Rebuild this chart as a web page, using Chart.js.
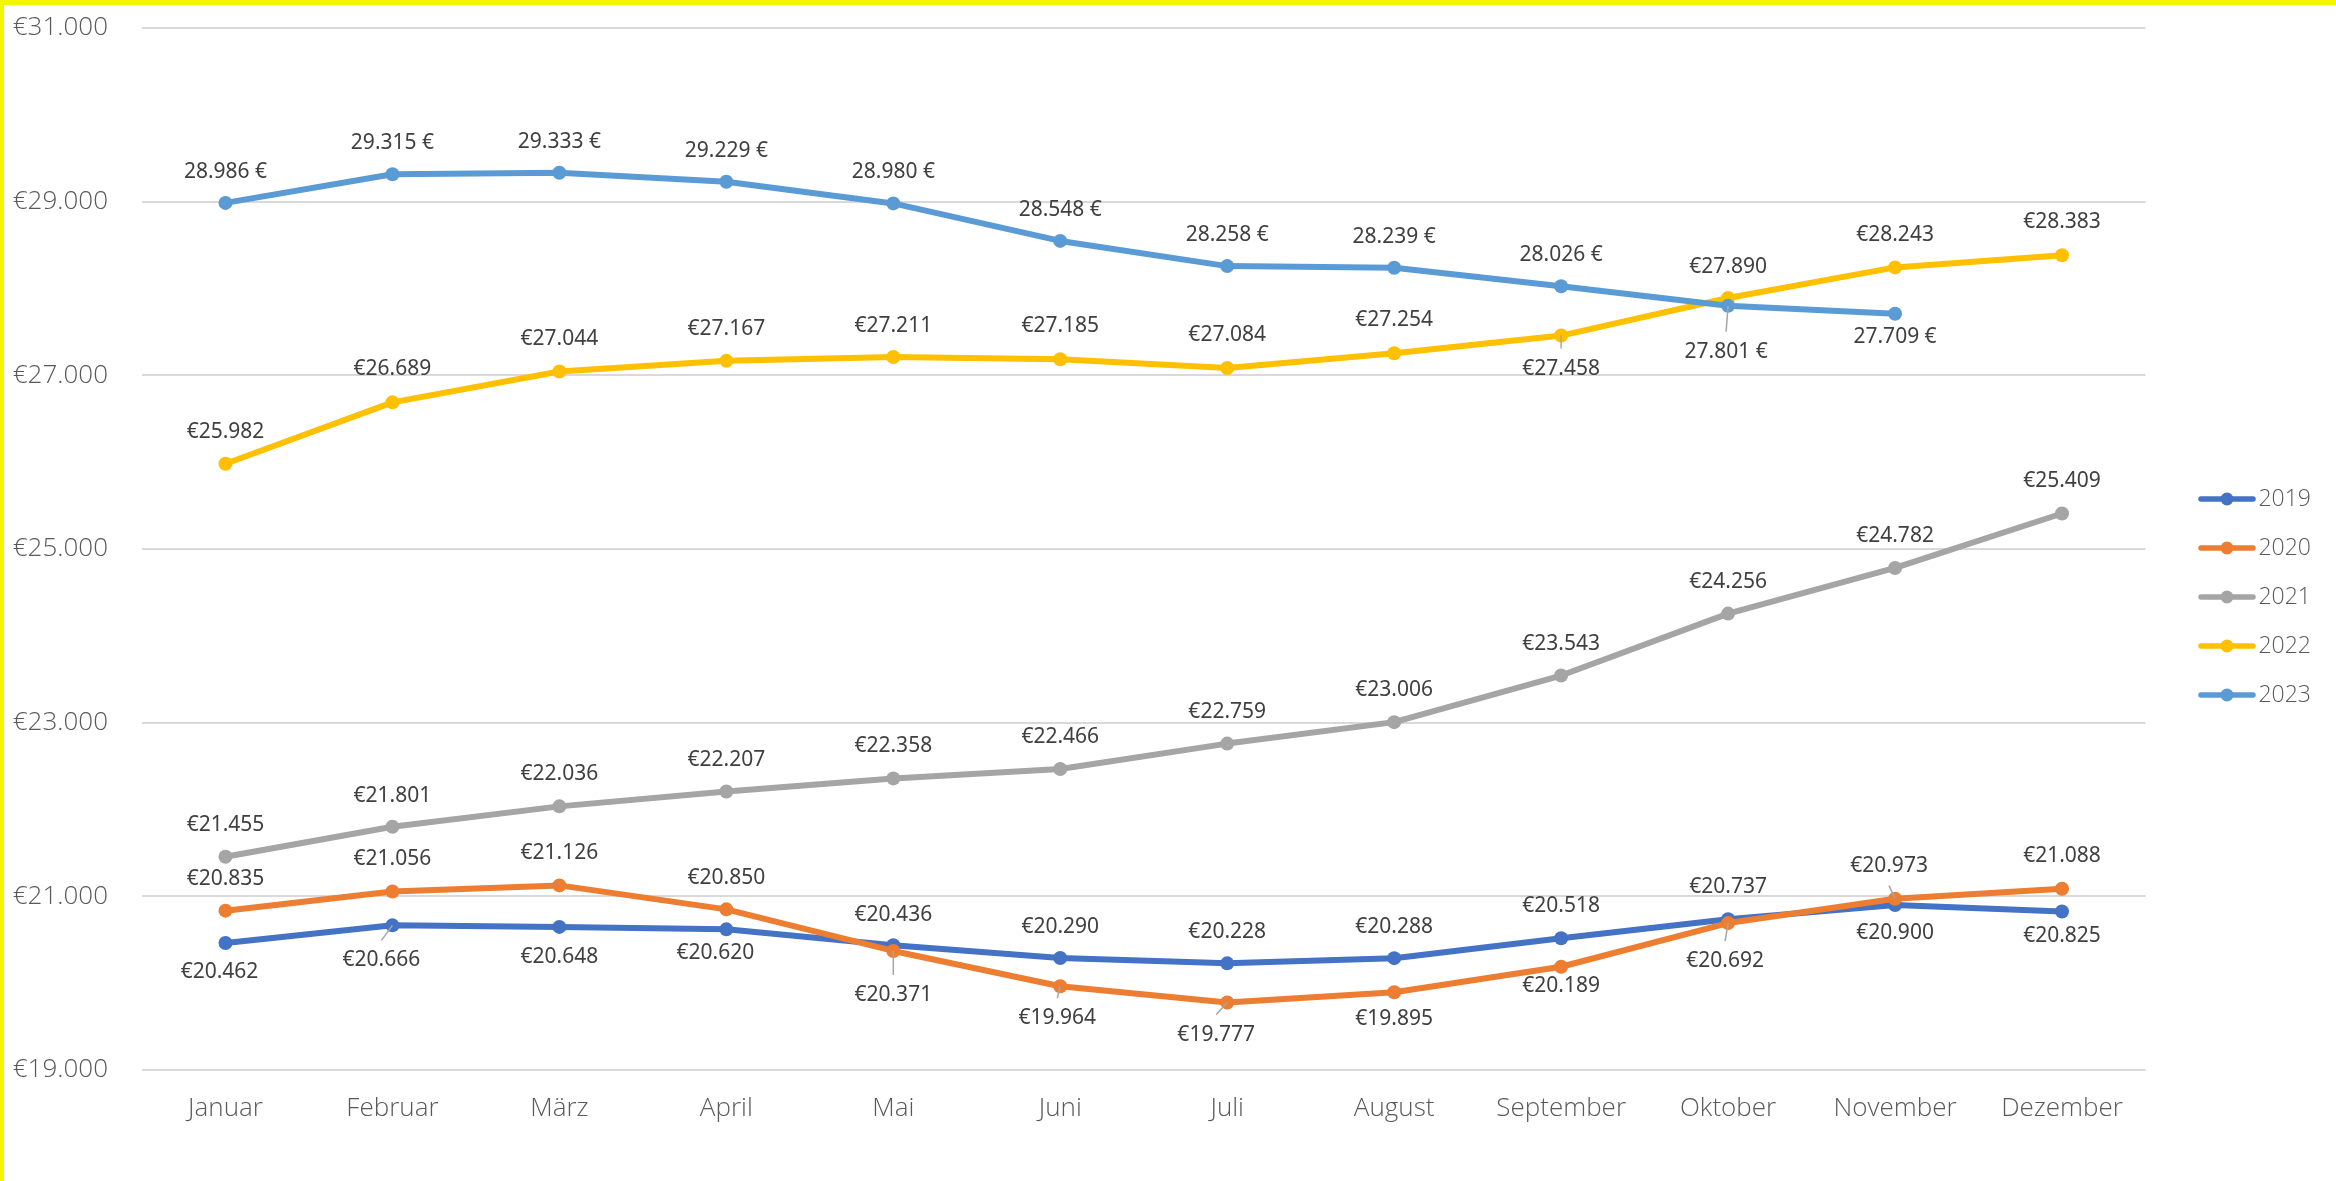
<!DOCTYPE html>
<html><head><meta charset="utf-8">
<script src="https://cdn.jsdelivr.net/npm/chart.js@4.4.1/dist/chart.umd.min.js"></script>
<style>
html,body{margin:0;padding:0;background:#fff;overflow:hidden;}
#wrap{position:relative;width:2336px;height:1181px;background:#fff;}
canvas{position:absolute;left:0;top:0;}
#bt{position:absolute;left:0;top:0;width:2336px;height:5px;background:#F4F600;}
#bl{position:absolute;left:0;top:0;width:4px;height:1181px;background:#F4F600;}
</style></head><body>
<div id="wrap"><canvas id="c" width="2336" height="1181"></canvas><div id="bt"></div><div id="bl"></div></div>
<script>
// ---- data ----
const months = ['Januar','Februar','März','April','Mai','Juni','Juli','August','September','Oktober','November','Dezember'];
const years = ['2019','2020','2021','2022','2023'];
const v2019 = [20462,20666,20648,20620,20436,20290,20228,20288,20518,20737,20900,20825];
const v2020 = [20835,21056,21126,20850,20371,19964,19777,19895,20189,20692,20973,21088];
const v2021 = [21455,21801,22036,22207,22358,22466,22759,23006,23543,24256,24782,25409];
const v2022 = [25982,26689,27044,27167,27211,27185,27084,27254,27458,27890,28243,28383];
const v2023 = [28986,29315,29333,29229,28980,28548,28258,28239,28026,27801,27709,null];
const yMin = 19000, yMax = 31000, yStep = 2000;

// ---- styles ----
const colors = ['#4472C4','#ED7D31','#A5A5A5','#FFC000','#5B9BD5'];
const seriesValues = [v2019, v2020, v2021, v2022, v2023];
// label placement (pixels relative to the point)
const lblDy = [
  [29,35,30,24,-30,-31,-31,-31,-32,-32,28,24],
  [-32,-32,-32,-31,44,32,32,27,19,38,-33,-33],
  [-32,-31,-32,-32,-32,-32,-32,-32,-32,-32,-32,-32],
  [-32,-33,-32,-32,-31,-33,-33,-33,33,-31,-32,-33],
  [-31,-31,-31,-31,-31,-31,-31,-31,-31,46,23,0]
];
const lblDx = [
  [-6,-11,0,-11,0,0,0,0,0,0,0,0],
  [0,0,0,0,0,-3,-11,0,0,-3,-6,0],
  [0,0,0,0,0,0,0,0,0,0,0,0],
  [0,0,0,0,0,0,0,0,0,0,0,0],
  [0,0,0,0,0,0,0,0,0,-2,0,0]
];
const leaders = [[0,1],[1,4],[1,5],[1,6],[1,9],[1,10],[3,8],[4,9]];
const suffixEuro = [false,false,false,false,true];

const fmt = n => String(n).replace(/\B(?=(\d{3})+(?!\d))/g, '.');
const AXIS_FONT = {family:'"Open Sans", Lato, sans-serif', size:26, weight:'300'};

function legendIcon(color){
  const c = document.createElement('canvas');
  c.width = 58; c.height = 16;
  const g = c.getContext('2d');
  g.strokeStyle = color; g.lineWidth = 5.5; g.lineCap = 'round';
  g.beginPath(); g.moveTo(3,8); g.lineTo(55,8); g.stroke();
  g.fillStyle = color; g.beginPath(); g.arc(29,8,6.5,0,Math.PI*2); g.fill();
  return c;
}

const datasets = years.map((y,i)=>({
  label: y,
  data: seriesValues[i],
  borderColor: colors[i],
  backgroundColor: colors[i],
  pointBackgroundColor: colors[i],
  pointBorderWidth: 0,
  pointRadius: 7,
  pointHoverRadius: 7,
  borderWidth: 6,
  borderCapStyle: 'round',
  borderJoinStyle: 'round',
  tension: 0,
  spanGaps: false,
  order: years.length - i
}));

const labelPlugin = {
  id: 'valueLabels',
  afterDatasetsDraw(chart){
    const ctx = chart.ctx;
    ctx.save();
    ctx.strokeStyle = '#A6A6A6'; ctx.lineWidth = 1.5;
    leaders.forEach(([s,k])=>{
      const el = chart.getDatasetMeta(s).data[k];
      if(!el) return;
      const dy = lblDy[s][k], dx = lblDx[s][k];
      const sign = dy > 0 ? 1 : -1;
      const ex = el.x + dx, ey = el.y + dy - sign*20;
      ctx.beginPath(); ctx.moveTo(el.x, el.y); ctx.lineTo(ex, ey); ctx.stroke();
    });
    ctx.font = '21px "Noto Sans", sans-serif';
    ctx.fillStyle = '#404040';
    ctx.textAlign = 'center'; ctx.textBaseline = 'middle';
    chart.data.datasets.forEach((ds,s)=>{
      const meta = chart.getDatasetMeta(s);
      ds.data.forEach((v,k)=>{
        if(v === null || v === undefined) return;
        const el = meta.data[k];
        const txt = suffixEuro[s] ? fmt(v) + ' €' : '€' + fmt(v);
        ctx.fillText(txt, el.x + lblDx[s][k], el.y + lblDy[s][k]);
      });
    });
    ctx.restore();
  }
};

new Chart(document.getElementById('c'), {
  type: 'line',
  data: { labels: months, datasets },
  options: {
    responsive: false,
    animation: false,
    events: [],
    layout: { padding: { top: 28, bottom: 15, left: 0, right: 15 } },
    plugins: {
      tooltip: { enabled: false },
      legend: {
        position: 'right',
        align: 'center',
        labels: {
          usePointStyle: true,
          pointStyleWidth: 40,
          padding: 26,
          color: '#595959',
          font: {family:'"Open Sans", Lato, sans-serif', size:23, weight:'300'},
          generateLabels(chart){
            return chart.data.datasets.map((ds,i)=>({
              text: ds.label,
              pointStyle: legendIcon(colors[i]),
              fillStyle: colors[i],
              strokeStyle: colors[i],
              lineWidth: 0,
              hidden: false,
              datasetIndex: i,
              fontColor: '#595959'
            }));
          }
        }
      }
    },
    scales: {
      x: {
        type: 'category',
        offset: true,
        grid: { display: false, drawTicks: false },
        border: { display: false },
        ticks: { color: '#595959', font: AXIS_FONT, padding: 23, maxRotation: 0, autoSkip: false },
        afterFit(s){ s.height = 96; }
      },
      y: {
        min: yMin, max: yMax,
        grid: { color: '#D9D9D9', lineWidth: 2, drawTicks: false },
        border: { display: false },
        ticks: { stepSize: yStep, color: '#595959', font: AXIS_FONT, padding: 34,
          callback: v => '€' + fmt(v) },
        afterFit(s){ s.width = 142; s.paddingTop = 16; s.paddingBottom = 16; }
      },
      y2: {
        position: 'right',
        display: true,
        grid: { display: false, drawTicks: false },
        border: { display: false },
        ticks: { display: false },
        afterFit(s){ s.width = 35.5; s.paddingTop = 0; s.paddingBottom = 0; }
      }
    }
  },
  plugins: [labelPlugin]
});
</script>
</body></html>
